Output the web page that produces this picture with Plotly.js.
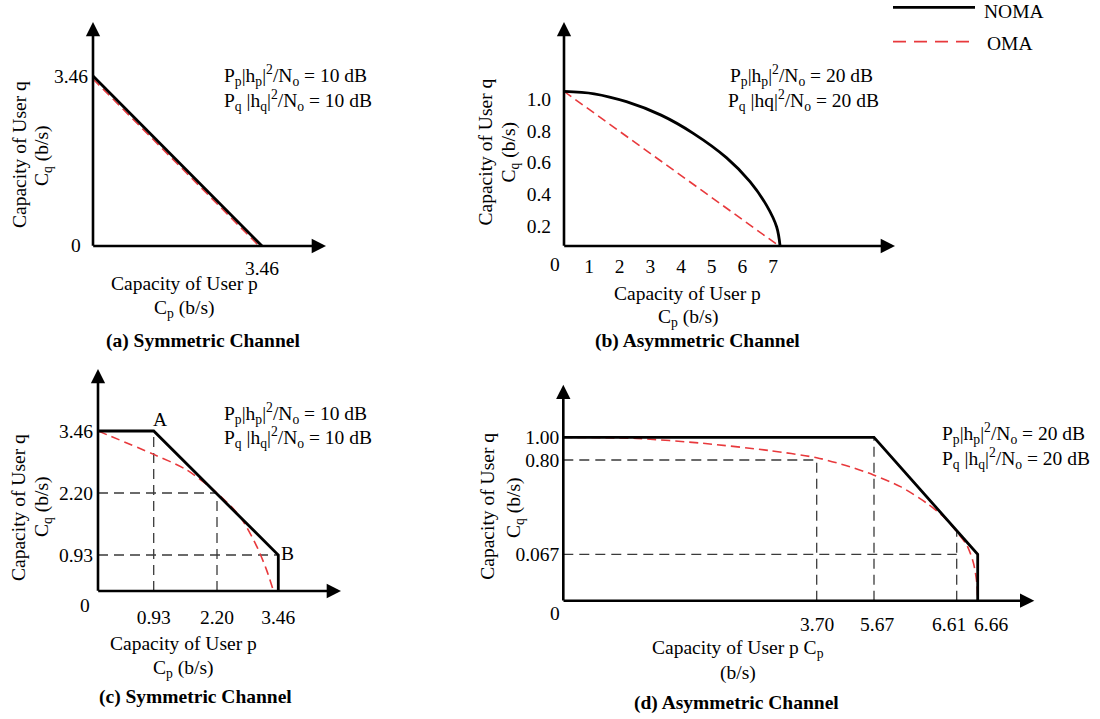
<!DOCTYPE html>
<html><head><meta charset="utf-8">
<script src="https://cdn.plot.ly/plotly-3.0.1.min.js"></script>
<style>body{margin:0;background:#fff}#chart{width:1100px;height:719px}</style>
</head><body><div id="chart"></div>
<script>
// ---------------- data ----------------
// (a) Symmetric channel
const aNomaCp = [0, 3.46];
const aNomaCq = [3.46, 0];
const aOmaCp = [0, 3.40];
const aOmaCq = [3.40, 0];
const aXTickVals = [3.46];
const aXTickText = ['3.46'];
const aYTickVals = [3.46];
const aYTickText = ['3.46'];

// (b) Asymmetric channel
const bNomaCp = [0, 1.17, 2.22, 3.35, 4.40, 5.49, 6.25, 6.79, 7.12, 7.23];
const bNomaCq = [1.05, 1.035, 0.985, 0.90, 0.785, 0.63, 0.48, 0.33, 0.19, 0];
const bOmaCp = [0, 7.20];
const bOmaCq = [1.05, 0];
const bXTickVals = [1, 2, 3, 4, 5, 6, 7];
const bXTickText = ['1', '2', '3', '4', '5', '6', '7'];
const bYTickVals = [0.2, 0.4, 0.6, 0.8, 1.0];
const bYTickText = ['0.2', '0.4', '0.6', '0.8', '1.0'];

// (c) Symmetric channel
const cNomaCp = [0, 0.93, 3.46, 3.46];
const cNomaCq = [3.46, 3.46, 0.93, 0];
const cOmaCp = [0, 0.92, 1.59, 2.20, 2.67, 3.02, 3.22, 3.36];
const cOmaCq = [3.46, 2.99, 2.67, 2.20, 1.72, 1.10, 0.54, 0];
const cXTickVals = [0.93, 2.20, 3.46];
const cXTickText = ['0.93', '2.20', '3.46'];
const cYTickVals = [0.93, 2.20, 3.46];
const cYTickText = ['0.93', '2.20', '3.46'];
const cPointNames = ['A', 'B'];
const cPointCp = [0.93, 3.46];
const cPointCq = [3.46, 0.93];
const cVDropCp = [0.93, 2.20];   // vertical guides down to the Cp axis
const cVDropCq = [3.46, 2.20];
const cHDropCp = [2.20, 3.46];   // horizontal guides across to the Cq axis
const cHDropCq = [2.20, 0.93];

// (d) Asymmetric channel
const dNomaCp = [0, 5.67, 6.66, 6.66];
const dNomaCq = [1.00, 1.00, 0.067, 0];
const dOmaCp = [0, 1.07, 2.04, 3.02, 3.70, 4.84, 5.65, 5.97, 6.27, 6.46, 6.61, 6.634, 6.650, 6.658, 6.66];
const dOmaCq = [1.00, 0.99, 0.947, 0.882, 0.82, 0.748, 0.684, 0.593, 0.464, 0.359, 0.243, 0.139, 0.054, 0.025, 0];
const dXTickVals = [3.70, 5.67, 6.61, 6.66];
const dXTickText = ['3.70', '5.67', '6.61', '6.66'];
const dYTickVals = [0.067, 0.80, 1.00];
const dYTickText = ['0.067', '0.80', '1.00'];
const dVDropCp = [3.70, 5.67, 6.61];
const dVDropCq = [0.80, 1.00, 0.25];
const dHDropCp = [3.70, 6.61];
const dHDropCq = [0.80, 0.067];

const seriesNames = ['NOMA', 'OMA'];

// ---------------- layout configuration (schematic, piecewise axes) ----------------
const W = 1100, H = 719;
const FONT = 'Liberation Serif, Times New Roman, serif';
const FS = 19.5;
const RED = '#e8393c';

const panels = [
  {key:'a', ox:93, oy:246, w:237, h:228,
   xs:[[0, 3.46], [0, 169]], ys:[[0, 3.46], [0, 170]],
   xStand:8, yStand:4, zero:[-17, 0]},
  {key:'b', ox:564, oy:246, w:335, h:228,
   xs:[[0, 1, 7], [0, 25, 209]], ys:[[0, 0.2, 1.0], [0, 20, 146.7]],
   xStand:6, yStand:12, zero:[-9, -18]},
  {key:'c', ox:98, oy:591, w:247, h:226,
   xs:[[0, 0.93, 2.20, 3.46], [0, 55.7, 119, 180.3]], ys:[[0, 0.93, 2.20, 3.46], [0, 36, 98, 160]],
   xStand:12, yStand:4, zero:[-13, -14]},
  {key:'d', ox:563.3, oy:600.7, w:475, h:220,
   xs:[[0, 3.70, 5.67, 6.61, 6.66], [0, 253.4, 310.7, 393.4, 414.4]], ys:[[0, 0.067, 0.80, 1.00], [0, 46.4, 140.7, 163.4]],
   xStand:12, yStand:3, zero:[-8, -13]}
];
const dXTickShift = [0.6, 2.7, -7.4, 13];

function scale(anchor) {
  const vals = anchor[0], pos = anchor[1];
  return function (v) {
    if (v === null) return null;
    let i = 1;
    while (i < vals.length - 1 && v > vals[i]) i++;
    const t = (v - vals[i - 1]) / (vals[i] - vals[i - 1]);
    return pos[i - 1] + t * (pos[i] - pos[i - 1]);
  };
}
panels.forEach(p => { p.fx = scale(p.xs); p.fy = scale(p.ys); });
const P = {}; panels.forEach((p, i) => { p.n = i + 1; P[p.key] = p; });
const axn = (p, c) => c + (p.n === 1 ? '' : p.n);
const px = x => x / W, py = y => 1 - y / H;

const panelData = {
  a: {noma:[aNomaCp, aNomaCq], oma:[aOmaCp, aOmaCq], omaSpline:false, nomaSpline:false,
      xt:[aXTickVals, aXTickText], yt:[aYTickVals, aYTickText]},
  b: {noma:[bNomaCp, bNomaCq], oma:[bOmaCp, bOmaCq], omaSpline:false, nomaSpline:true,
      xt:[bXTickVals, bXTickText], yt:[bYTickVals, bYTickText]},
  c: {noma:[cNomaCp, cNomaCq], oma:[cOmaCp, cOmaCq], omaSpline:true, nomaSpline:false,
      xt:[cXTickVals, cXTickText], yt:[cYTickVals, cYTickText],
      v:[cVDropCp, cVDropCq], hz:[cHDropCp, cHDropCq]},
  d: {noma:[dNomaCp, dNomaCq], oma:[dOmaCp, dOmaCq], omaSpline:true, nomaSpline:false,
      xt:null, yt:[dYTickVals, dYTickText],
      v:[dVDropCp, dVDropCq], hz:[dHDropCp, dHDropCq]}
};

const traces = [];
const layout = {
  width: W, height: H, margin: {l:0, r:0, t:0, b:0},
  paper_bgcolor: '#fff', plot_bgcolor: 'rgba(0,0,0,0)', showlegend: false,
  font: {family: FONT, size: FS, color: '#000'},
  annotations: [], shapes: []
};

panels.forEach(p => {
  const d = panelData[p.key];
  const xa = axn(p, 'x'), ya = axn(p, 'y');
  // guides
  if (d.v) {
    const gx = [], gy = [];
    d.v[0].forEach((cp, i) => { gx.push(cp, cp, null); gy.push(0, d.v[1][i], null); });
    d.hz[0].forEach((cp, i) => { gx.push(0, cp, null); gy.push(d.hz[1][i], d.hz[1][i], null); });
    traces.push({x: gx.map(p.fx), y: gy.map(p.fy), xaxis: xa, yaxis: ya, mode: 'lines',
      line: {color: '#3a3a3a', width: 1.3, dash: '10px,6px'}, cliponaxis: false, hoverinfo: 'skip', connectgaps: false});
  }
  traces.push({name: seriesNames[1], x: d.oma[0].map(p.fx), y: d.oma[1].map(p.fy), xaxis: xa, yaxis: ya,
    mode: 'lines', line: {color: RED, width: 1.6, dash: '9px,5px', shape: d.omaSpline ? 'spline' : 'linear', smoothing: 0.8},
    cliponaxis: false});
  traces.push({name: seriesNames[0], x: d.noma[0].map(p.fx), y: d.noma[1].map(p.fy), xaxis: xa, yaxis: ya,
    mode: 'lines', line: {color: '#000', width: 2.8, shape: d.nomaSpline ? 'spline' : 'linear', smoothing: 1},
    cliponaxis: false});

  const xaxis = {domain: [px(p.ox), px(p.ox + p.w)], range: [0, p.w], anchor: ya,
    showgrid: false, zeroline: false, showline: false, ticks: '', fixedrange: true,
    tickfont: {family: FONT, size: FS, color: '#000'}, ticklabelstandoff: p.xStand, tickangle: 0};
  if (d.xt) { xaxis.tickmode = 'array'; xaxis.tickvals = d.xt[0].map(p.fx); xaxis.ticktext = d.xt[1]; }
  else { xaxis.showticklabels = false; }
  const yaxis = {domain: [py(p.oy), py(p.oy - p.h)], range: [0, p.h], anchor: xa,
    showgrid: false, zeroline: false, showline: false, ticks: '', fixedrange: true,
    tickfont: {family: FONT, size: FS, color: '#000'}, ticklabelstandoff: p.yStand,
    tickmode: 'array', tickvals: d.yt[0].map(p.fy), ticktext: d.yt[1]};
  layout['xaxis' + (p.n === 1 ? '' : p.n)] = xaxis;
  layout['yaxis' + (p.n === 1 ? '' : p.n)] = yaxis;

  // axis arrows
  const arrow = {xref: xa, yref: ya, axref: xa, ayref: ya, text: '', showarrow: true,
    arrowhead: 2, arrowsize: 1.1, arrowwidth: 2.6, arrowcolor: '#000', standoff: 0, startstandoff: 0};
  layout.annotations.push(Object.assign({}, arrow, {x: p.w - 4, y: 0, ax: -1.3, ay: 0}));
  layout.annotations.push(Object.assign({}, arrow, {x: 0, y: p.h - 4, ax: 0, ay: -1.3}));
  // origin "0"
  layout.annotations.push({xref: xa, yref: ya, x: 0, y: 0, text: '0', showarrow: false,
    xanchor: 'center', yanchor: 'middle', xshift: p.zero[0], yshift: p.zero[1], font: {size: FS}});
});

// (d) Cp tick labels (spread apart as in the reference)
dXTickVals.forEach((v, i) => {
  layout.annotations.push({xref: 'x4', yref: 'y4', x: P.d.fx(v), y: 0, text: dXTickText[i], showarrow: false,
    xanchor: 'center', yanchor: 'middle', xshift: dXTickShift[i], yshift: -23.6, font: {size: FS}});
});
// points A, B in (c)
const abShift = [[6, 11], [9, 2]];
cPointNames.forEach((nm, i) => {
  layout.annotations.push({xref: 'x3', yref: 'y3', x: P.c.fx(cPointCp[i]), y: P.c.fy(cPointCq[i]), text: nm,
    showarrow: false, xanchor: 'center', yanchor: 'middle', xshift: abShift[i][0], yshift: abShift[i][1], font: {size: FS}});
});

// free texts
function txt(x, y, text, opt) {
  layout.annotations.push(Object.assign({xref: 'paper', yref: 'paper', x: px(x), y: py(y), text: text,
    showarrow: false, xanchor: 'center', yanchor: 'middle', font: {family: FONT, size: FS, color: '#000'}}, opt || {}));
}
const snr1 = s => 'P<sub>p</sub>|h<sub>p</sub>|<sup>2</sup>/N<sub>o</sub> = ' + s + ' dB';
const snr2 = s => 'P<sub>q</sub> |h<sub>q</sub>|<sup>2</sup>/N<sub>o</sub> = ' + s + ' dB';
const L = {xanchor: 'left'};
txt(221.7, 76, snr1(10), L); txt(221.7, 100, snr2(10), L);
txt(728, 75, snr1(20), L); txt(725.7, 100, 'P<sub>q</sub> |hq|<sup>2</sup>/N<sub>o</sub> = 20 dB', L);
txt(221.7, 413.3, snr1(10), L); txt(221.7, 437.3, snr2(10), L);
txt(940, 433.3, snr1(20), L); txt(940, 458.3, snr2(20), L);

const R = {textangle: -90};
const yT1 = 'Capacity of User q', yT2 = 'C<sub>q</sub> (b/s)';
const xT1 = 'Capacity of User p', xT2 = 'C<sub>p</sub> (b/s)';
// (a)
txt(20, 155, yT1, R); txt(43, 156, yT2, R);
txt(184.3, 283.3, xT1); txt(184.3, 309.3, xT2);
txt(203.3, 340.7, '<b>(a) Symmetric Channel</b>');
// (b)
txt(485, 152.5, yT1, R); txt(510, 152.5, yT2, R);
txt(687.7, 293.3, xT1); txt(687.7, 318.3, xT2);
txt(697.3, 340.7, '<b>(b) Asymmetric Channel</b>');
// (c)
txt(18, 508, yT1, R); txt(43, 507, yT2, R);
txt(183, 643, xT1); txt(183, 669, xT2);
txt(195, 696.7, '<b>(c) Symmetric Channel</b>');
// (d)
txt(488, 506.7, yT1, R); txt(515, 508, yT2, R);
txt(738.3, 649.3, 'Capacity of User p C<sub>p</sub>'); txt(738, 673.3, '(b/s)');
txt(736.7, 703.3, '<b>(d) Asymmetric Channel</b>');

// legend
layout.shapes.push({type: 'line', xref: 'paper', yref: 'paper', x0: px(893), x1: px(975), y0: py(7.3), y1: py(7.3),
  line: {color: '#000', width: 2.8}});
layout.shapes.push({type: 'line', xref: 'paper', yref: 'paper', x0: px(893), x1: px(971), y0: py(41.7), y1: py(41.7),
  line: {color: RED, width: 1.8, dash: '13px,8px'}});
txt(982, 11.7, seriesNames[0], L);
txt(985, 43.3, seriesNames[1], L);

Plotly.newPlot('chart', traces, layout, {staticPlot: true, displayModeBar: false});
</script>
</body></html>
